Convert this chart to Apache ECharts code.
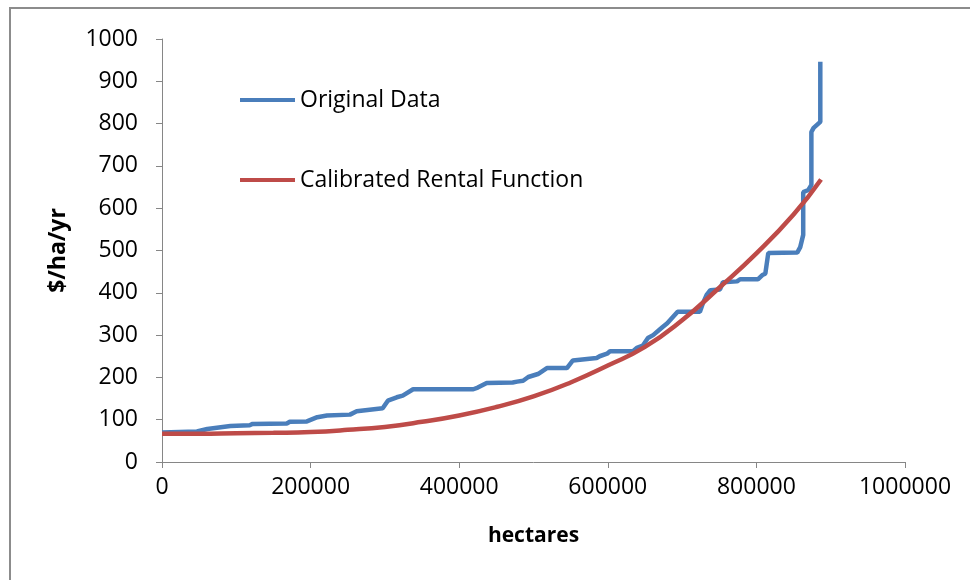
<!DOCTYPE html>
<html>
<head>
<meta charset="utf-8">
<script src="https://cdn.jsdelivr.net/npm/echarts@6/dist/echarts.min.js"></script>
<style>
  html, body { margin: 0; padding: 0; background: #fff; }
  #chart { width: 970px; height: 580px; }
</style>
</head>
<body>
<div id="chart"></div>
<script>
// Original Data: [hectares, $/ha/yr]
const originalData = [
  [0, 70], [47000, 72], [61000, 78], [92000, 85], [118000, 87], [122000, 90],
  [168000, 91], [172000, 95], [195000, 96], [209000, 106], [222000, 110],
  [253000, 112], [262000, 120], [297000, 127], [304000, 145], [316000, 153],
  [324000, 157], [338000, 172], [419000, 172], [425000, 176], [437000, 187],
  [472000, 188], [478000, 190], [486000, 192], [493000, 201], [506000, 208],
  [518000, 222], [545000, 222], [553000, 240], [585000, 246], [589000, 250],
  [599000, 256], [603000, 262], [634000, 262], [639000, 270], [647000, 275],
  [654000, 293], [661000, 300], [673000, 318], [680000, 328], [694000, 355],
  [724000, 355], [728000, 375], [733000, 395], [738000, 406], [751000, 408],
  [755000, 425], [774000, 427], [778000, 432], [802000, 432], [808000, 442],
  [812000, 445], [816000, 494], [855000, 495], [859000, 508], [863000, 537],
  [863000, 638], [870000, 643], [874000, 655], [874000, 780], [877000, 790],
  [886000, 804], [886000, 946]
]

// Calibrated Rental Function: points
const calibratedData = [
  [0, 67], [50000, 67], [100000, 68], [150000, 69], [200000, 71],
  [250000, 76], [300000, 83], [350000, 95], [400000, 110], [450000, 130],
  [500000, 155], [550000, 188], [600000, 228], [650000, 272], [700000, 335],
  [750000, 412], [800000, 493], [850000, 585], [887000, 668]
]

const seriesNames = ['Original Data', 'Calibrated Rental Function']

const chart = echarts.init(document.getElementById('chart'))

const axisColor = '#868686'
const labelFont = { color: '#000', fontSize: 23, fontFamily: 'Open Sans' }

const option = {
  animation: false,
  graphic: [
    {
      type: 'rect',
      shape: { x: 10, y: 8, width: 1000, height: 700 },
      style: { fill: 'none', stroke: '#8c8c8c', lineWidth: 2 },
      silent: true
    }
  ],
  legend: {
    orient: 'vertical',
    left: 235,
    top: 81,
    itemWidth: 55,
    itemHeight: 4,
    itemGap: 52,
    icon: 'rect',
    data: seriesNames,
    textStyle: { color: '#000', fontSize: 23, lineHeight: 28, fontFamily: 'Open Sans' }
  },
  grid: {
    left: 162,
    right: 65,
    top: 39,
    bottom: 118
  },
  xAxis: {
    type: 'value',
    min: 0,
    max: 1000000,
    interval: 200000,
    name: 'hectares',
    nameLocation: 'middle',
    nameGap: 64,
    nameTextStyle: { color: '#000', fontSize: 21, fontWeight: 'bold', fontFamily: 'Open Sans' },
    axisLine: { show: true, lineStyle: { color: axisColor, width: 1 } },
    axisTick: { show: true, length: 6, lineStyle: { color: axisColor } },
    axisLabel: { ...labelFont, margin: 14, formatter: v => String(v) },
    splitLine: { show: false }
  },
  yAxis: {
    type: 'value',
    min: 0,
    max: 1000,
    interval: 100,
    name: '$/ha/yr',
    nameLocation: 'middle',
    nameGap: 92,
    nameRotate: 90,
    nameTextStyle: { color: '#000', fontSize: 23, fontWeight: 'bold', fontFamily: 'Open Sans' },
    axisLine: { show: true, lineStyle: { color: axisColor, width: 1 } },
    axisTick: { show: true, length: 6, lineStyle: { color: axisColor } },
    axisLabel: { ...labelFont, margin: 24, formatter: v => String(v) },
    splitLine: { show: false }
  },
  series: [
    {
      name: seriesNames[0],
      type: 'line',
      data: originalData,
      showSymbol: false,
      color: '#4a7ebb',
      lineStyle: { width: 4.5, color: '#4a7ebb' },
      z: 2
    },
    {
      name: seriesNames[1],
      type: 'line',
      data: calibratedData,
      smooth: true,
      showSymbol: false,
      color: '#be4b48',
      lineStyle: { width: 4.5, color: '#be4b48' },
      z: 3
    }
  ]
}

chart.setOption(option)
</script>
</body>
</html>
